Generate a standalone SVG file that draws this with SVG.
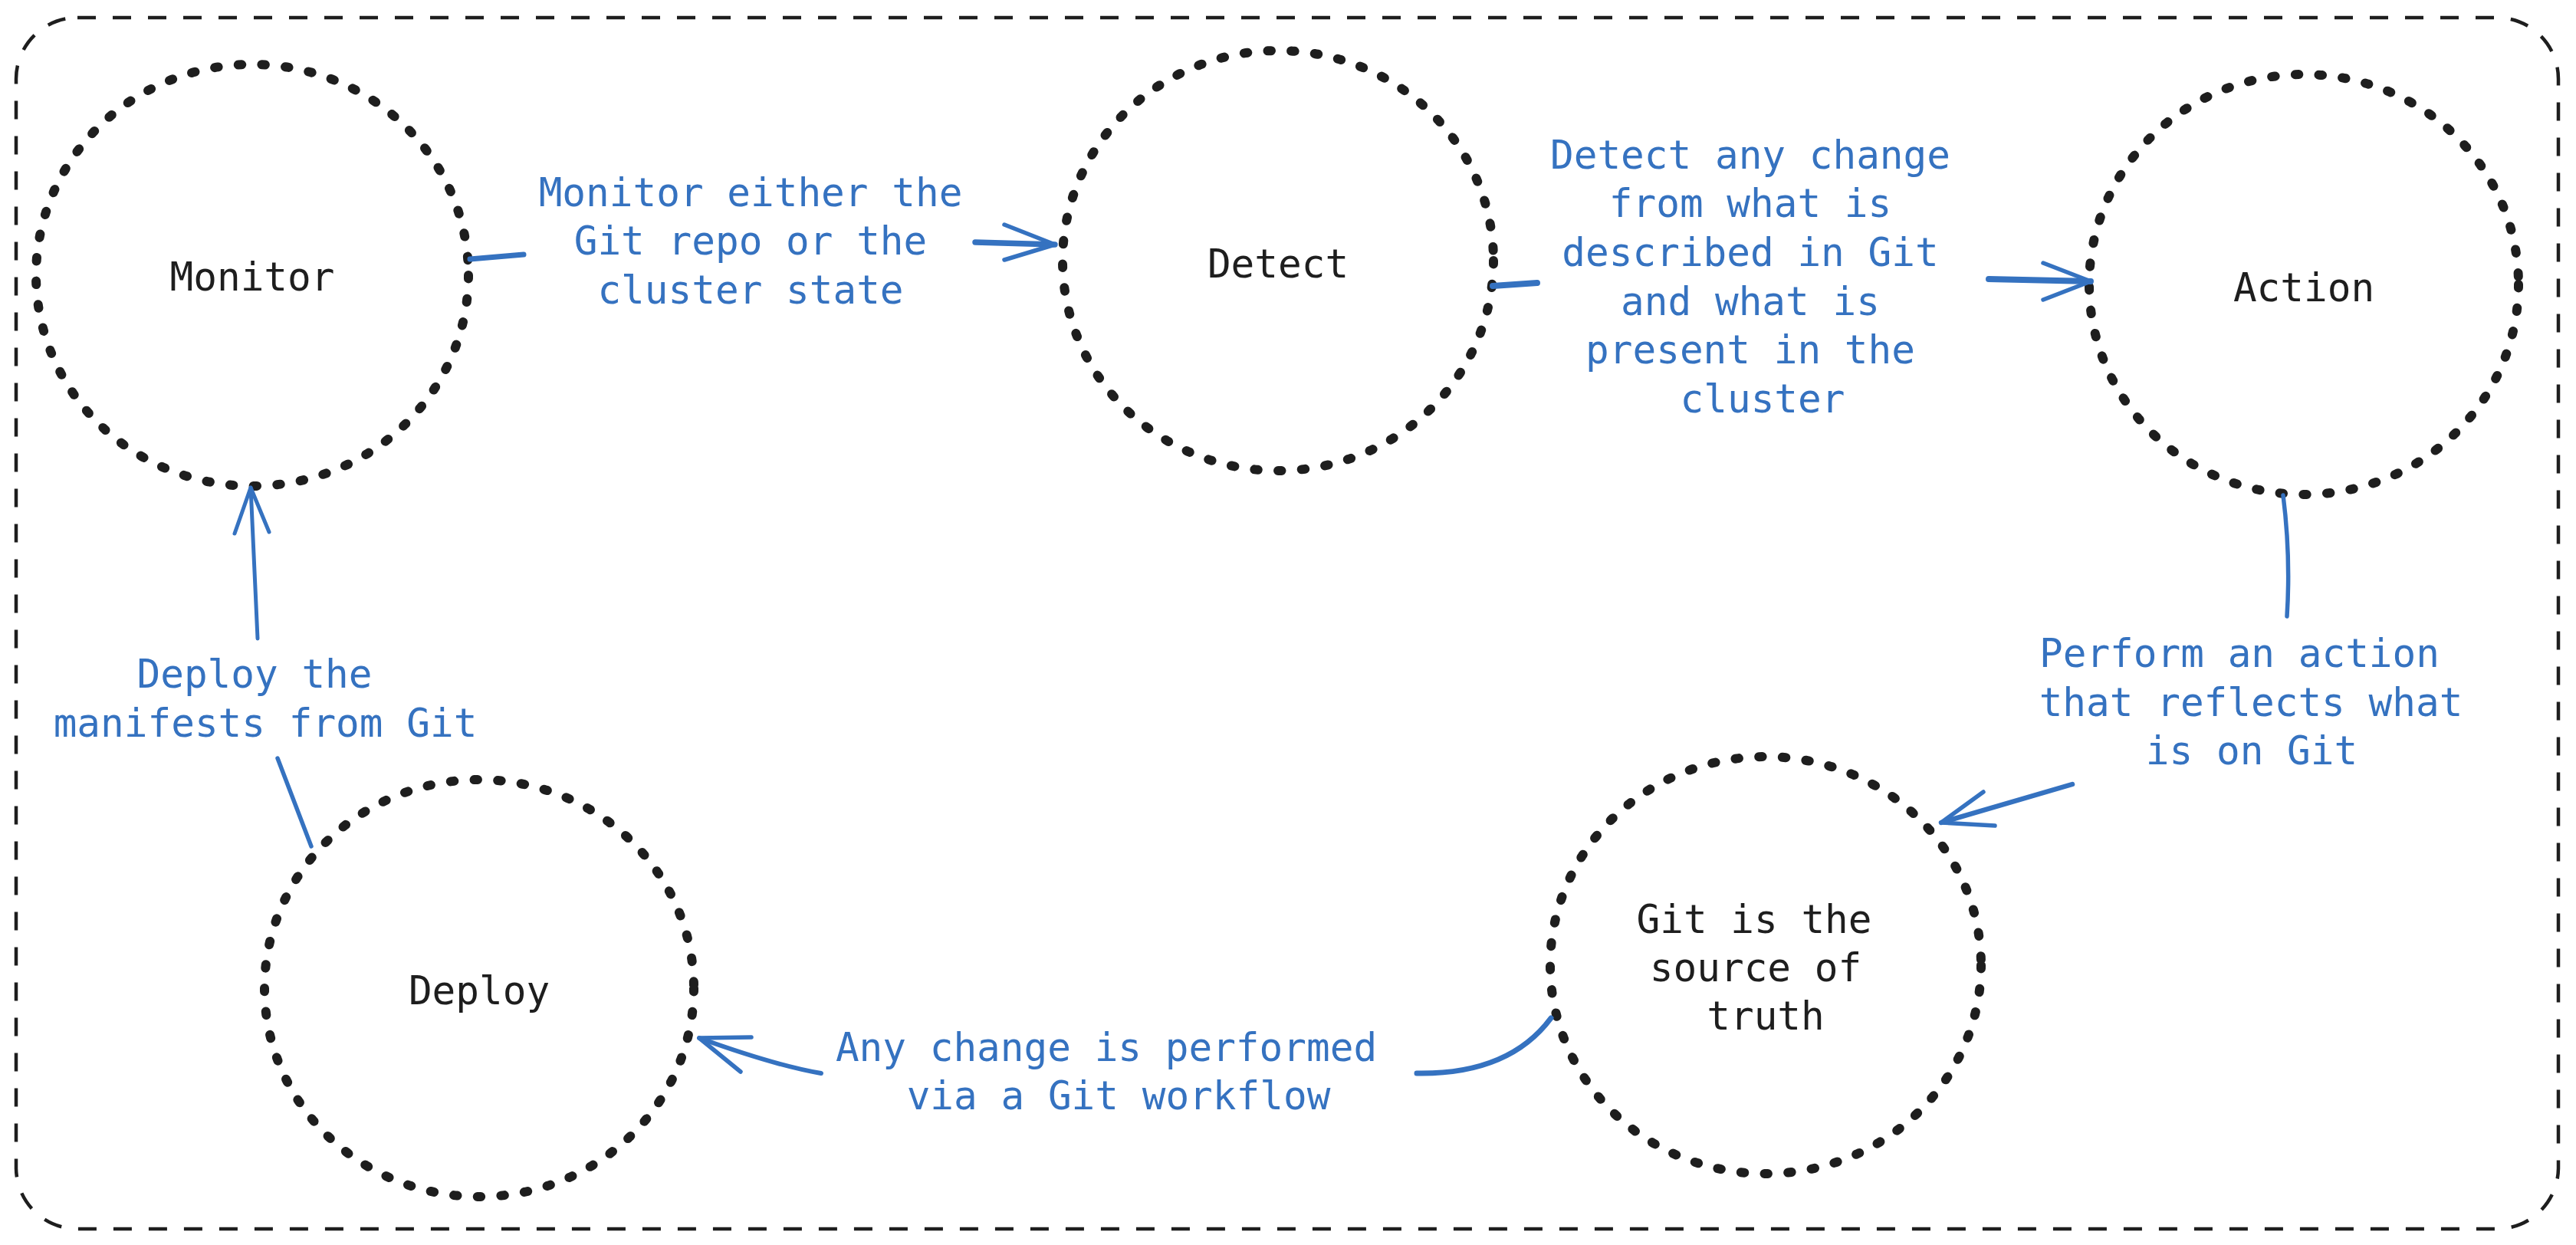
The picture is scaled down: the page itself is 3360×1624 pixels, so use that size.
<svg xmlns="http://www.w3.org/2000/svg" width="3360" height="1624" viewBox="0 0 3360 1624">
<style>
.node{fill:none;stroke:#1e1e1e;stroke-width:12;stroke-linecap:round;stroke-dasharray:4.5 26.3}
.frame{fill:none;stroke:#1e1e1e;stroke-width:4.5;stroke-dasharray:24 22}
.lbl{font-family:"DejaVu Sans Mono","Liberation Mono",monospace;font-size:51px;fill:#1e1e1e;text-anchor:middle}
.elbl{font-family:"DejaVu Sans Mono","Liberation Mono",monospace;font-size:51px;fill:#3572c0;text-anchor:middle}
.edge{fill:none;stroke:#3572c0;stroke-linecap:round;stroke-linejoin:round}
</style>
<rect width="3360" height="1624" fill="#ffffff"/>
<rect class="frame" x="21" y="23" width="3316" height="1580" rx="80" ry="80"/>

<g id="monitor">
<ellipse class="node" cx="329" cy="359" rx="282" ry="275"/>
<text class="lbl" x="329" y="379">Monitor</text>
</g>
<g id="detect">
<ellipse class="node" cx="1667" cy="340" rx="281" ry="274"/>
<text class="lbl" x="1667" y="362">Detect</text>
</g>
<g id="action">
<ellipse class="node" cx="3005" cy="371" rx="280" ry="274"/>
<text class="lbl" x="3005" y="393">Action</text>
</g>
<g id="git">
<ellipse class="node" cx="2303" cy="1259" rx="281" ry="272"/>
<text class="lbl" x="2288" y="1217">Git is the</text>
<text class="lbl" x="2290" y="1280">source of</text>
<text class="lbl" x="2303" y="1343">truth</text>
</g>
<g id="deploy">
<ellipse class="node" cx="625" cy="1289" rx="280" ry="272"/>
<text class="lbl" x="625" y="1310">Deploy</text>
</g>

<g id="connectors">
<g id="e-monitor-detect">
<path class="edge" stroke-width="7" d="M613,338 L683,332"/>
<path class="edge" stroke-width="7.5" d="M1272,316 L1376,319"/>
<path class="edge" stroke-width="5.5" d="M1310,293 L1376,319 L1310,339"/>
<text class="elbl" x="979" y="269">Monitor either the</text>
<text class="elbl" x="979" y="332">Git repo or the</text>
<text class="elbl" x="979" y="396">cluster state</text>
</g>
<g id="e-detect-action">
<path class="edge" stroke-width="8" d="M1947,373 L2005,369"/>
<path class="edge" stroke-width="8" d="M2594,364 L2727,367"/>
<path class="edge" stroke-width="5.5" d="M2665,343 L2727,367 L2665,391"/>
<text class="elbl" x="2283" y="220">Detect any change</text>
<text class="elbl" x="2283" y="283">from what is</text>
<text class="elbl" x="2283" y="347">described in Git</text>
<text class="elbl" x="2283" y="411">and what is</text>
<text class="elbl" x="2283" y="474">present in the</text>
<text class="elbl" x="2299" y="538">cluster</text>
</g>
<g id="e-action-git">
<path class="edge" stroke-width="5.5" d="M2978,646 Q2988,725 2983,804"/>
<path class="edge" stroke-width="6.5" d="M2703,1023 L2532,1073"/>
<path class="edge" stroke-width="5.5" d="M2587,1033 L2532,1073 L2602,1077"/>
<text class="elbl" x="2921" y="870">Perform an action</text>
<text class="elbl" x="2936" y="934">that reflects what</text>
<text class="elbl" x="2937" y="997">is on Git</text>
</g>
<g id="e-git-deploy">
<path class="edge" stroke-width="7" d="M2023,1328 Q1968,1402 1848,1400"/>
<path class="edge" stroke-width="6" d="M1071,1400 Q1012,1390 912,1354"/>
<path class="edge" stroke-width="5.5" d="M980,1353 L912,1354 L966,1398"/>
<text class="elbl" x="1443" y="1384">Any change is performed</text>
<text class="elbl" x="1459" y="1447">via a Git workflow</text>
</g>
<g id="e-deploy-monitor">
<path class="edge" stroke-width="5.5" d="M406,1104 L362,989"/>
<path class="edge" stroke-width="5" d="M336,833 L327,636"/>
<path class="edge" stroke-width="5" d="M306,696 L327,636 L351,694"/>
<text class="elbl" x="332" y="897">Deploy the</text>
<text class="elbl" x="346" y="961">manifests from Git</text>
</g>
</g>
</svg>
